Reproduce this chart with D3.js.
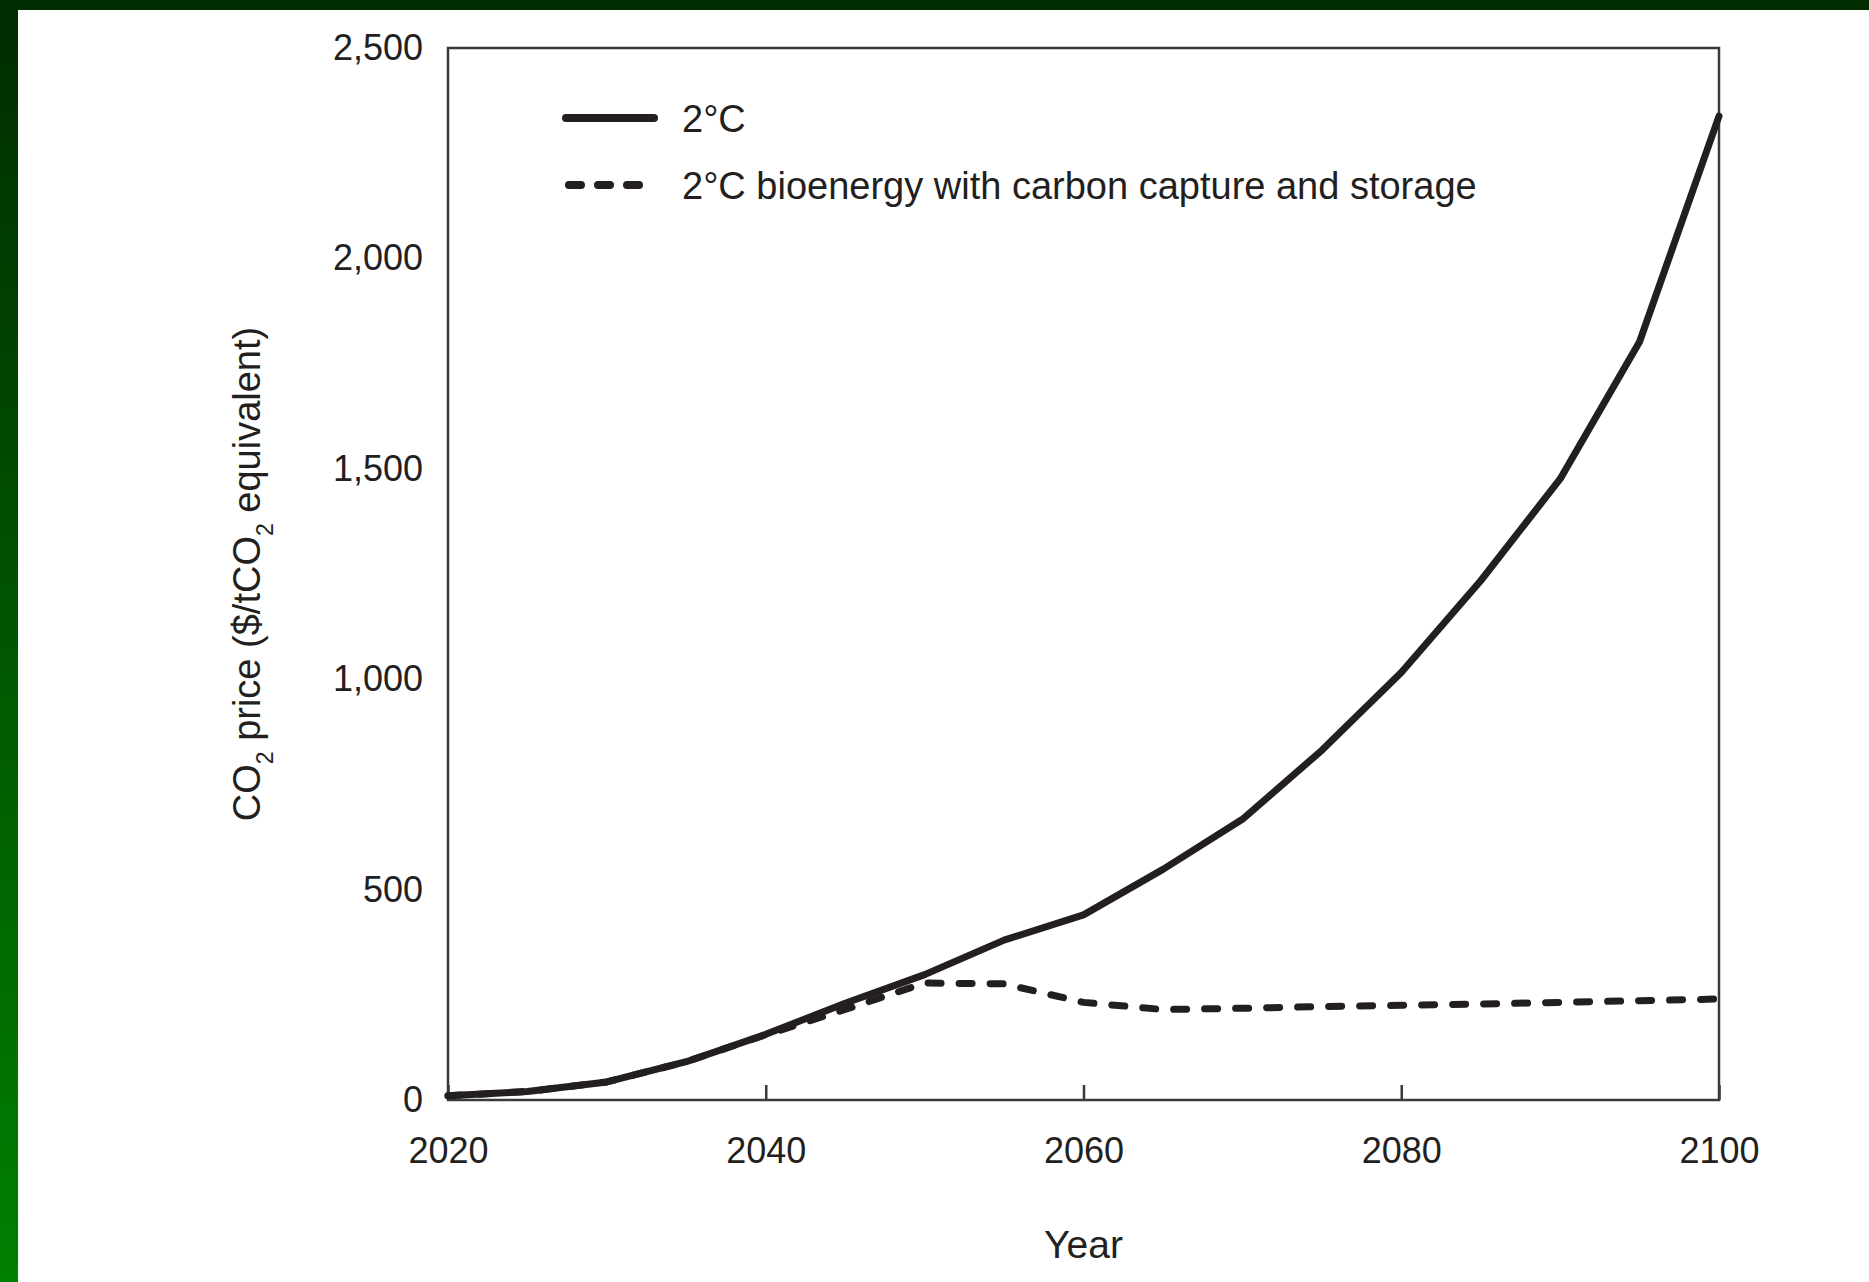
<!DOCTYPE html>
<html>
<head>
<meta charset="utf-8">
<script src="https://cdn.jsdelivr.net/npm/d3@7"></script>
<style>
  html, body { margin: 0; padding: 0; background: #fff; }
  svg { display: block; }
  text { font-family: "Liberation Sans", Arial, sans-serif; fill: #231f20; }
</style>
</head>
<body>
<svg id="chart" width="1869" height="1282"></svg>
<script>
// ---- data ----
const years = [2020, 2025, 2030, 2035, 2040, 2045, 2050, 2055, 2060, 2065, 2070, 2075, 2080, 2085, 2090, 2095, 2100];
const price2C = [10, 20, 43, 91, 156, 230, 298, 380, 440, 548, 667, 831, 1016, 1234, 1476, 1802, 2338];
const price2CBECCS = [10, 20, 43, 91, 155, 215, 278, 276, 232, 215, 218, 222, 225, 228, 232, 236, 240];
const seriesNames = ["2°C", "2°C bioenergy with carbon capture and storage"];
const yTicks = [0, 500, 1000, 1500, 2000, 2500];
const xTicks = [2020, 2040, 2060, 2080, 2100];

const W = 1869, H = 1282;
const svg = d3.select("#chart");

// background (slide gradient + white canvas)
const defs = svg.append("defs");
const grad = defs.append("linearGradient").attr("id", "bg").attr("x1", 0).attr("y1", 0).attr("x2", 0).attr("y2", 1);
grad.append("stop").attr("offset", "0%").attr("stop-color", "#002c00");
grad.append("stop").attr("offset", "100%").attr("stop-color", "#008000");
svg.append("rect").attr("width", W).attr("height", H).attr("fill", "url(#bg)");
svg.append("rect").attr("x", 18).attr("y", 10).attr("width", W - 18).attr("height", H - 10).attr("fill", "#fff");

const m = { left: 448, right: 1719, top: 48, bottom: 1100 };
const x = d3.scaleLinear().domain([2020, 2100]).range([m.left, m.right]);
const y = d3.scaleLinear().domain([0, 2500]).range([m.bottom, m.top]);

const tickFont = 36;

// y axis labels
const yAxis = svg.append("g").attr("transform", `translate(${m.left},0)`)
  .call(d3.axisLeft(y).tickValues(yTicks).tickSize(0).tickPadding(25).tickFormat(d3.format(",")));
yAxis.select(".domain").remove();
yAxis.selectAll("text").attr("font-size", tickFont).attr("fill", "#231f20").attr("font-family", "Liberation Sans, Arial, sans-serif");

// x axis (inward ticks)
const xAxis = svg.append("g").attr("transform", `translate(0,${m.bottom})`)
  .call(d3.axisBottom(x).tickValues(xTicks).tickSizeInner(-15).tickSizeOuter(0).tickPadding(0).tickFormat(d3.format("d")));
xAxis.select(".domain").remove();
xAxis.selectAll("line").attr("stroke", "#3a3a3a").attr("stroke-width", 2.5);
xAxis.selectAll("text").attr("font-size", tickFont).attr("fill", "#231f20")
  .attr("font-family", "Liberation Sans, Arial, sans-serif")
  .attr("y", 50).attr("dy", "0.36em");

// frame
svg.append("rect").attr("x", m.left).attr("y", m.top)
  .attr("width", m.right - m.left).attr("height", m.bottom - m.top)
  .attr("fill", "none").attr("stroke", "#3a3a3a").attr("stroke-width", 2.5);

// lines
const line = d3.line().x((d, i) => x(years[i])).y(d => y(d));
svg.append("path").datum(price2CBECCS).attr("d", line)
  .attr("fill", "none").attr("stroke", "#231f20").attr("stroke-width", 7)
  .attr("stroke-linecap", "round").attr("stroke-linejoin", "round")
  .attr("stroke-dasharray", "13 18");
svg.append("path").datum(price2C).attr("d", line)
  .attr("fill", "none").attr("stroke", "#231f20").attr("stroke-width", 7)
  .attr("stroke-linecap", "round").attr("stroke-linejoin", "round");

// legend
const lg = svg.append("g");
lg.append("line").attr("x1", 566).attr("x2", 654).attr("y1", 118).attr("y2", 118)
  .attr("stroke", "#231f20").attr("stroke-width", 8).attr("stroke-linecap", "round");
lg.append("line").attr("x1", 569).attr("x2", 652).attr("y1", 185).attr("y2", 185)
  .attr("stroke", "#231f20").attr("stroke-width", 8).attr("stroke-linecap", "round")
  .attr("stroke-dasharray", "12 17");
lg.selectAll("text.lab").data(seriesNames).enter().append("text")
  .attr("x", 682).attr("y", (d, i) => i === 0 ? 118 : 185).attr("dy", "0.36em")
  .attr("font-size", 38).text(d => d);

// axis titles
svg.append("text").attr("x", (m.left + m.right) / 2).attr("y", 1244).attr("dy", "0.36em")
  .attr("text-anchor", "middle").attr("font-size", 39).text("Year");

const yt = svg.append("text").attr("transform", `translate(260,${(m.top + m.bottom) / 2}) rotate(-90)`)
  .attr("text-anchor", "middle").attr("font-size", 38);
yt.append("tspan").text("CO");
yt.append("tspan").attr("font-size", 23).attr("baseline-shift", "sub").text("2");
yt.append("tspan").text(" price ($/tCO");
yt.append("tspan").attr("font-size", 23).attr("baseline-shift", "sub").text("2");
yt.append("tspan").text(" equivalent)");
</script>
</body>
</html>
